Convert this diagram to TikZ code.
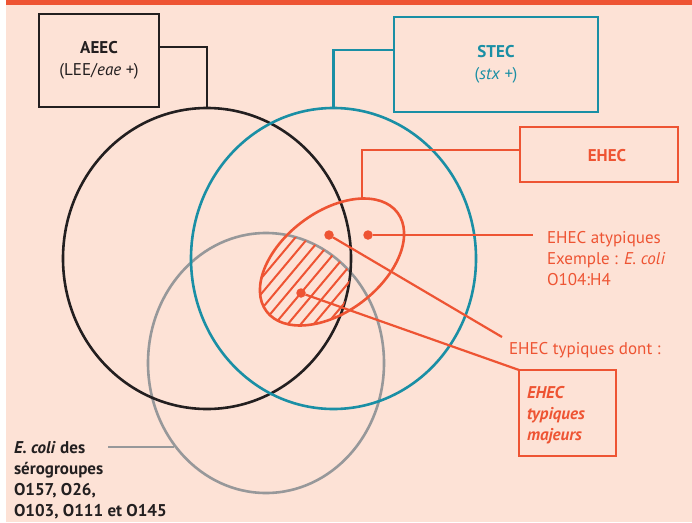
\documentclass[tikz,border=0pt]{standalone}
\usepackage{fontspec}
\setmainfont{PT Sans}
\usetikzlibrary{shapes.geometric}
\definecolor{bg}{HTML}{FDE2D6}
\definecolor{orng}{HTML}{EE5433}
\definecolor{tealc}{HTML}{1A8FA5}
\definecolor{blk}{HTML}{231F20}
\definecolor{gry}{HTML}{97989A}
\begin{document}
\begin{tikzpicture}[x=1pt,y=-1pt,
  txt/.style={font=\fontsize{17}{21}\selectfont, inner sep=0pt, outer sep=0pt},
  lbl/.style={txt, align=left, anchor=base west},
  rbox/.style={draw, rectangle, line width=2.5pt, inner sep=0pt, outer sep=0pt, align=center, font=\fontsize{17}{22}\selectfont},
  ring/.style={draw, ellipse, line width=2.6pt, inner sep=0pt, outer sep=0pt},
  conn/.style={line width=2.2pt},
  dot/.style={circle, fill=orng, inner sep=0pt, outer sep=0pt, minimum size=9.5pt}]
\useasboundingbox (0,0) rectangle (692,522);
\fill[white] (0,0) rectangle (692,522);
\fill[bg] (6,5) rectangle (692,522);
\fill[orng] (6,0) rectangle (692,5);

% rings
\node[ring, gry, minimum width=236pt, minimum height=260pt] (grayC) at (266,363) {};
\node[ring, blk, minimum width=288pt, minimum height=301pt] (blackC) at (207,258.5) {};
\node[ring, tealc, minimum width=285pt, minimum height=301pt] (tealC) at (333.5,258.5) {};

% hatched region
\begin{scope}
  \clip[rotate around={37:(332,262)}] (332,262) ellipse [x radius=82pt, y radius=50pt];
  \clip (266,363) ellipse [x radius=118pt, y radius=130pt];
  \clip (207,258.5) ellipse [x radius=144pt, y radius=150.5pt];
  \foreach \k in {0,...,16} {
    \draw[orng, line width=2pt] (150+13*\k,380) -- ++(150,-179);
  }
\end{scope}

% EHEC ellipse
\node[ring, orng, rotate=37, minimum width=164pt, minimum height=100pt] (ehecE) at (332,262) {};

% boxes
\node[rbox, blk, text=blk, minimum width=120pt, minimum height=93pt] (aeec) at (99,60.5)
  {\textbf{AEEC}\\(LEE/\textit{eae +})};
\node[rbox, tealc, text=tealc, minimum width=204pt, minimum height=95pt] (stec) at (496,64.5)
  {\textbf{STEC}\\(\textit{stx +})};
\node[rbox, orng, line width=2.7pt, minimum width=158pt, minimum height=55pt] (ehecB) at (599,154.5) {};
\node[txt, text=orng, font=\fontsize{17}{21}\selectfont\bfseries] (ehecT) at (607,156) {EHEC};
\node[rbox, orng, line width=2.7pt, minimum width=97pt, minimum height=86pt] (majB) at (567.5,413) {};

% connectors from boxes
\coordinate (aeecJ) at (159,47);
\coordinate (stecJ) at (394,50);
\coordinate (ehecJ) at (520,150);
\coordinate (ehecTop) at (362,200);
\draw[blk, line width=2.5pt] (aeecJ) -| (blackC.north);
\draw[tealc, line width=2.5pt] (stecJ) -| (tealC.north);
\draw[orng, conn] (ehecJ) -| (ehecTop);

% dots
\node[dot] (d1) at (329,235) {};
\node[dot] (d2) at (368,235) {};
\node[dot] (d3) at (301,293) {};
\coordinate (a1) at (533,235);
\coordinate (t1) at (502,337);
\draw[orng, conn] (d2) -- (a1);
\draw[orng, conn] (d1) -- (t1);
\draw[orng, conn] (d3) -- (majB.north west);

% labels (base anchor = last line's baseline)
\node[lbl, text=orng] (atyp) at (547,285) {EHEC atypiques\\Exemple : \textit{E. coli}\\O104:H4};
\node[lbl, text=orng] (typ) at (509,354) {EHEC typiques dont :};
\node[lbl, text=orng, font=\fontsize{17}{21}\selectfont\bfseries\itshape] (maj) at (527,440) {EHEC\\typiques\\majeurs};
\node[lbl, text=blk, font=\fontsize{17}{21}\selectfont\bfseries] (sero) at (14,516) {\textit{E. coli} des\\sérogroupes\\O157, O26,\\O103, O111 et O145};
\coordinate (g1) at (108,447);
\coordinate (g2) at (174,447);
\draw[gry, conn] (g1) -- (g2);
\end{tikzpicture}
\end{document}
